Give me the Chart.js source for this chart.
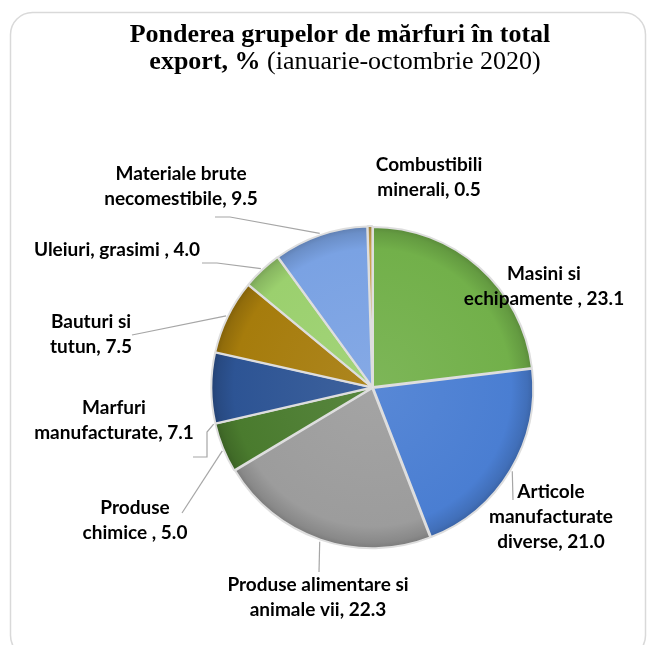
<!DOCTYPE html>
<html>
<head>
<meta charset="utf-8">
<script src="https://cdn.jsdelivr.net/npm/chart.js@4"></script>
<style>
  html, body { margin: 0; padding: 0; background: #ffffff; }
  #wrap { width: 651px; height: 645px; position: relative; }
</style>
</head>
<body>
<div id="wrap"><canvas id="c" width="651" height="645"></canvas></div>
<script>
// ---- data ----
const categories = [
  'Combustibili\nminerali',
  'Masini si\nechipamente ',
  'Articole\nmanufacturate\ndiverse',
  'Produse alimentare si\nanimale vii',
  'Produse\nchimice ',
  'Marfuri\nmanufacturate',
  'Bauturi si\ntutun',
  'Uleiuri, grasimi ',
  'Materiale brute\nnecomestibile'
];
const shares = [0.5, 23.1, 21.0, 22.3, 5.0, 7.1, 7.5, 4.0, 9.5];
const titleLine1 = 'Ponderea grupelor de mărfuri în total';
const titleLine2Bold = 'export, %';
const titleLine2Normal = ' (ianuarie-octombrie 2020)';

// ---- styles ----
const colors = ['#c9a24c', '#72b04a', '#4a7ed2', '#9c9c9c', '#4a7b2e', '#2d5494', '#a67c0c', '#9bd06e', '#7aa2e3'];

// label layout: centre x, first baseline y, anchor fraction along slice, leader points
const labelLayout = [
  { x: 429, y: 171, frac: 0.5, leader: null },
  { x: 544, y: 280, frac: 0.5, leader: null },
  { x: 551, y: 498, frac: 0.5, leader: [[513, 500]] },
  { x: 318, y: 591, frac: 0.5, leader: [[319, 572]] },
  { x: 135, y: 514, frac: 0.45, leader: [[182, 513]] },
  { x: 114, y: 414, frac: 0.0, leader: [[207, 432], [207, 457], [193, 457]] },
  { x: 91,  y: 328, frac: 0.5, leader: [[132, 335]] },
  { x: 117, y: 256, frac: 0.5, leader: [[217, 263], [202, 263]] },
  { x: 181, y: 180, frac: 0.5, leader: [[230, 217], [215, 217]] }
];

function shade(hex, amt) {
  const n = parseInt(hex.slice(1), 16);
  let r = (n >> 16) & 255, g = (n >> 8) & 255, b = n & 255;
  const f = (c) => Math.max(0, Math.min(255, Math.round(amt >= 0 ? c + (255 - c) * amt : c * (1 + amt))));
  return 'rgb(' + f(r) + ',' + f(g) + ',' + f(b) + ')';
}

const framePlugin = {
  id: 'frame',
  beforeDraw(chart) {
    const ctx = chart.ctx;
    ctx.save();
    ctx.fillStyle = '#ffffff';
    ctx.fillRect(0, 0, chart.width, chart.height);
    const x = 10.5, y = 12.5, w = 635, h = 645, r = 22;
    ctx.beginPath();
    ctx.moveTo(x + r, y);
    ctx.lineTo(x + w - r, y);
    ctx.arcTo(x + w, y, x + w, y + r, r);
    ctx.lineTo(x + w, y + h - r);
    ctx.arcTo(x + w, y + h, x + w - r, y + h, r);
    ctx.lineTo(x + r, y + h);
    ctx.arcTo(x, y + h, x, y + h - r, r);
    ctx.lineTo(x, y + r);
    ctx.arcTo(x, y, x + r, y, r);
    ctx.closePath();
    ctx.strokeStyle = '#d9d9d9';
    ctx.lineWidth = 1.5;
    ctx.stroke();

    // title
    ctx.fillStyle = '#000000';
    ctx.textBaseline = 'alphabetic';
    ctx.textAlign = 'left';
    const boldFont = 'bold 26px "Liberation Serif", "DejaVu Serif", serif';
    const normFont = '26px "Liberation Serif", "DejaVu Serif", serif';
    ctx.font = boldFont;
    const w1 = ctx.measureText(titleLine1).width;
    ctx.fillText(titleLine1, 340 - w1 / 2, 42);
    const wb = ctx.measureText(titleLine2Bold).width;
    ctx.font = normFont;
    const wn = ctx.measureText(titleLine2Normal).width;
    const sx = 345 - (wb + wn) / 2;
    ctx.font = boldFont;
    ctx.fillText(titleLine2Bold, sx, 69);
    ctx.font = normFont;
    ctx.fillText(titleLine2Normal, sx + wb, 69);
    ctx.restore();
  }
};

const labelPlugin = {
  id: 'pieLabels',
  afterDatasetsDraw(chart) {
    const ctx = chart.ctx;
    const meta = chart.getDatasetMeta(0);
    const ds = chart.data.datasets[0];
    ctx.save();
    meta.data.forEach((arc, i) => {
      const p = arc.getProps(['x', 'y', 'startAngle', 'endAngle', 'outerRadius'], true);
      const L = labelLayout[i];
      const off = ds.offset || 0;
      const a = p.startAngle + L.frac * (p.endAngle - p.startAngle);
      const ex = p.x + Math.cos(a) * (p.outerRadius + off);
      const ey = p.y + Math.sin(a) * (p.outerRadius + off);
      if (L.leader) {
        ctx.beginPath();
        ctx.moveTo(ex, ey);
        L.leader.forEach(pt => ctx.lineTo(pt[0], pt[1]));
        ctx.strokeStyle = '#a6a6a6';
        ctx.lineWidth = 1.2;
        ctx.stroke();
      }
      const text = chart.data.labels[i] + ', ' + ds.data[i].toFixed(1);
      const lines = text.split('\n');
      ctx.font = 'bold 19px Lato, "Open Sans", sans-serif';
      ctx.fillStyle = '#000000';
      ctx.textAlign = 'center';
      ctx.textBaseline = 'alphabetic';
      lines.forEach((ln, k) => ctx.fillText(ln, L.x, L.y + k * 25));
    });
    ctx.restore();
  }
};

new Chart(document.getElementById('c'), {
  type: 'pie',
  data: {
    labels: categories,
    datasets: [{
      data: shares,
      backgroundColor: (context) => {
        const chart = context.chart;
        const area = chart.chartArea;
        const base = colors[context.dataIndex];
        if (!area) return base;
        const cx = (area.left + area.right) / 2, cy = (area.top + area.bottom) / 2;
        const r = Math.min(area.width, area.height) / 2;
        const g = chart.ctx.createRadialGradient(cx, cy, 0, cx, cy, r);
        g.addColorStop(0, shade(base, 0.08));
        g.addColorStop(0.85, base);
        g.addColorStop(0.95, shade(base, -0.12));
        g.addColorStop(1, shade(base, -0.25));
        return g;
      },
      borderColor: '#dedede',
      borderWidth: 2,
      offset: 3
    }]
  },
  options: {
    responsive: false,
    animation: false,
    rotation: -1.8,
    layout: { padding: { left: 210, right: 116, top: 225, bottom: 95 } },
    plugins: {
      legend: { display: false },
      title: { display: false },
      tooltip: { enabled: false }
    }
  },
  plugins: [framePlugin, labelPlugin]
});
</script>
</body>
</html>
